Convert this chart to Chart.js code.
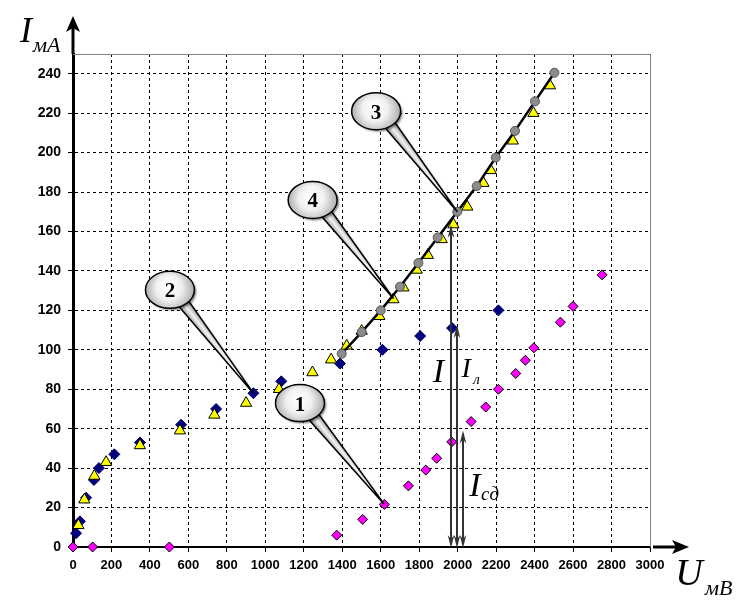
<!DOCTYPE html>
<html>
<head>
<meta charset="utf-8">
<script src="https://cdn.jsdelivr.net/npm/chart.js@4.4.0/dist/chart.umd.min.js"></script>
<style>
html,body{margin:0;padding:0;background:#ffffff;}
canvas{display:block;}
</style>
</head>
<body>
<canvas id="c" width="745" height="609"></canvas>
<script>
// ---- tick labels ----
const xTickValues = [0,200,400,600,800,1000,1200,1400,1600,1800,2000,2200,2400,2600,2800,3000];
const yTickValues = [0,20,40,60,80,100,120,140,160,180,200,220,240];

// ---- series 1 (magenta diamonds) ----
const s1U = [0,102,501,1371,1506,1619,1744,1834,1891,1969,2070,2146,2212,2302,2352,2396,2534,2600,2751];
const s1I = [0,0,0,6,14,21.6,31,39,45,53.3,63.6,71,80,88,94.7,101,114,122,138];

// ---- series 2 (navy diamonds) ----
const s2U = [16,36,68,109,135,215,348,562,744,938,1083,1388,1609,1805,1971,2212];
const s2I = [7,13,25,34,40,47,53,62,70,78,84,93,100,107,111,120];

// ---- series 3 (grey circles, joined by a line) ----
const s3U = [1397,1501,1600,1700,1796,1896,1998,2099,2198,2298,2402,2503];
const s3I = [98,109,120,132,144,157,170,183,197.5,211,226,240.5];

// ---- series 4 (yellow triangles) ----
const s4U = [28,59,111,172,348,556,735,900,1071,1245,1342,1423,1501,1593,1666,1718,1787,1845,1917,1978,2050,2134,2172,2287,2394,2480];
const s4I = [11,24,36,43,51.5,59,67,73,80,88.5,95,102,109.5,117,125.5,131.5,140.5,148,156,163.5,172.5,184.5,191,206,220,234];

// ---- callouts: label, bubble centre (data), target point (data) ----
const calloutLabels = ['1','2','3','4'];
const calloutCentre = [[1180,73],[504,130.4],[1576,221],[1246,176]];
const calloutTarget = [[1619,21.6],[938,78],[1998,170],[1666,126]];

// ---- vertical double arrows: U, top I ----
const arrowU = [1964,1999,2030];
const arrowTop = [163.4,112.6,59.1];

const toPts = (u, i) => u.map((v, k) => ({x: v, y: i[k]}));

const axisFont = {family: "'Liberation Sans', Arial, sans-serif", weight: 'bold'};

const overlay = {
  id: 'overlay',
  beforeDatasetsDraw(chart) {
    const {ctx, chartArea: a} = chart;
    ctx.save();
    ctx.strokeStyle = '#808080';
    ctx.lineWidth = 1;
    ctx.beginPath();
    ctx.moveTo(a.left, a.top + 0.5);
    ctx.lineTo(a.right + 0.5, a.top + 0.5);
    ctx.lineTo(a.right + 0.5, a.bottom);
    ctx.stroke();
    ctx.restore();
  },
  afterDraw(chart) {
    const {ctx, chartArea: a, scales: {x, y}} = chart;
    ctx.save();
    // axis arrows
    ctx.fillStyle = '#000';
    ctx.strokeStyle = '#000';
    ctx.lineWidth = 3;
    ctx.beginPath();
    ctx.moveTo(a.left, a.top);
    ctx.lineTo(a.left, 28);
    ctx.stroke();
    ctx.beginPath();
    ctx.moveTo(a.left, 16);
    ctx.lineTo(a.left - 7, 32);
    ctx.lineTo(a.left, 28);
    ctx.lineTo(a.left + 7, 32);
    ctx.closePath();
    ctx.fill();
    ctx.beginPath();
    ctx.moveTo(a.right + 3, a.bottom);
    ctx.lineTo(a.right + 28, a.bottom);
    ctx.stroke();
    ctx.beginPath();
    ctx.moveTo(a.right + 39, a.bottom);
    ctx.lineTo(a.right + 22, a.bottom - 7);
    ctx.lineTo(a.right + 26, a.bottom);
    ctx.lineTo(a.right + 22, a.bottom + 7);
    ctx.closePath();
    ctx.fill();

    // vertical double arrows
    ctx.strokeStyle = '#333';
    ctx.fillStyle = '#333';
    ctx.lineWidth = 2;
    const head = (px, py, dir) => {
      const L = 13, W = 3.3;
      ctx.beginPath();
      ctx.moveTo(px, py);
      ctx.lineTo(px - W, py - dir * L);
      ctx.lineTo(px, py - dir * (L - 4));
      ctx.lineTo(px + W, py - dir * L);
      ctx.closePath();
      ctx.fill();
    };
    arrowU.forEach((u, k) => {
      const px = Math.round(x.getPixelForValue(u));
      const yb = y.getPixelForValue(0) + 1;
      const yt = y.getPixelForValue(arrowTop[k]);
      ctx.beginPath();
      ctx.moveTo(px, yb - 4);
      ctx.lineTo(px, yt + 4);
      ctx.stroke();
      head(px, yt, -1);
      head(px, yb, 1);
    });

    // callouts
    calloutLabels.forEach((lab, k) => {
      const cx = x.getPixelForValue(calloutCentre[k][0]);
      const cy = y.getPixelForValue(calloutCentre[k][1]);
      const tx = x.getPixelForValue(calloutTarget[k][0]);
      const ty = y.getPixelForValue(calloutTarget[k][1]);
      const rx = 24.5, ry = 18.5;
      const bx = cx + 14, by = cy + 14;
      const dx = tx - bx, dy = ty - by, len = Math.hypot(dx, dy);
      const nx = -dy / len, ny = dx / len, hw = 5.5;
      ctx.save();
      ctx.shadowColor = 'rgba(0,0,0,0.45)';
      ctx.shadowOffsetX = 2; ctx.shadowOffsetY = 2; ctx.shadowBlur = 2;
      const wg = ctx.createLinearGradient(bx + nx * hw, by + ny * hw, bx - nx * hw, by - ny * hw);
      wg.addColorStop(0, '#9a9a9a'); wg.addColorStop(0.5, '#f2f2f2'); wg.addColorStop(1, '#9a9a9a');
      ctx.beginPath();
      ctx.moveTo(bx + nx * hw, by + ny * hw);
      ctx.lineTo(tx, ty);
      ctx.lineTo(bx - nx * hw, by - ny * hw);
      ctx.closePath();
      ctx.fillStyle = wg;
      ctx.fill();
      ctx.shadowColor = 'transparent';
      ctx.lineWidth = 1.5; ctx.strokeStyle = '#000';
      ctx.stroke();
      ctx.shadowColor = 'rgba(0,0,0,0.45)';
      const g = ctx.createRadialGradient(cx - 2, cy - 4, 2, cx, cy, rx * 1.05);
      g.addColorStop(0, '#ffffff'); g.addColorStop(0.45, '#f0f0f0'); g.addColorStop(1, '#a5a5a5');
      ctx.beginPath();
      ctx.ellipse(cx, cy, rx, ry, 0, 0, Math.PI * 2);
      ctx.fillStyle = g;
      ctx.fill();
      ctx.shadowColor = 'transparent';
      ctx.lineWidth = 1.5; ctx.strokeStyle = '#000';
      ctx.stroke();
      ctx.fillStyle = '#000';
      ctx.font = "bold 21px 'Liberation Serif', 'Times New Roman', serif";
      ctx.textAlign = 'center';
      ctx.textBaseline = 'alphabetic';
      ctx.fillText(lab, cx, cy + 7.5);
      ctx.restore();
    });

    // current labels
    const serif = "'Liberation Serif', 'Times New Roman', serif";
    const sub = (main, s, px, py, mainSize, subSize, sdx, sdy) => {
      ctx.fillStyle = '#000';
      ctx.textAlign = 'center';
      ctx.textBaseline = 'alphabetic';
      ctx.font = 'italic ' + mainSize + 'px ' + serif;
      ctx.fillText(main, px, py);
      if (s) {
        ctx.textAlign = 'left';
        ctx.font = 'italic ' + subSize + 'px ' + serif;
        ctx.fillText(s, px + sdx, py + sdy);
      }
    };
    sub('I', '', x.getPixelForValue(1900), y.getPixelForValue(83.9), 34, 0, 0, 0);
    sub('I', 'л', x.getPixelForValue(2044), y.getPixelForValue(86.4), 28, 15, 7, 7);
    sub('I', 'сд', x.getPixelForValue(2090), y.getPixelForValue(26), 34, 19, 6, 4);

    // axis titles
    sub('I', 'мА', 26, 42, 36, 22, 7, 9.5);
    sub('U', 'мВ', 689, 585, 38, 22, 16, 10);
    ctx.restore();
  }
};

new Chart(document.getElementById('c'), {
  type: 'scatter',
  data: {
    datasets: [
      {
        data: toPts(s3U, s3I), showLine: true, borderColor: '#000', borderWidth: 2.5,
        pointStyle: 'circle', pointRadius: 4.5, pointBackgroundColor: '#8c8c8c',
        pointBorderColor: '#555', pointBorderWidth: 1, clip: false
      },
      {
        data: toPts(s4U, s4I), pointStyle: 'triangle', pointRadius: 6.5,
        pointBackgroundColor: '#ffff00', pointBorderColor: '#000', pointBorderWidth: 1, clip: false
      },
      {
        data: toPts(s2U, s2I), pointStyle: 'rectRot', pointRadius: 5.5,
        pointBackgroundColor: '#000080', pointBorderColor: '#000066', pointBorderWidth: 1, clip: false
      },
      {
        data: toPts(s1U, s1I), pointStyle: 'rectRot', pointRadius: 5,
        pointBackgroundColor: '#ff00ff', pointBorderColor: '#000', pointBorderWidth: 1, clip: false
      }
    ]
  },
  options: {
    responsive: false,
    animation: false,
    devicePixelRatio: 1,
    layout: {padding: {left: 0, top: 54, right: 95, bottom: 0}},
    plugins: {legend: {display: false}, tooltip: {enabled: false}},
    scales: {
      x: {
        type: 'linear', min: 0, max: 3000,
        afterBuildTicks: s => { s.ticks = xTickValues.map(v => ({value: v})); },
        afterFit: s => { s.height = 62; },
        grid: {color: '#000', lineWidth: 1, tickLength: 5, tickColor: '#000', tickBorderDash: []},
        border: {display: true, color: '#000', width: 2, dash: [3, 3]},
        ticks: {
          autoSkip: false, maxRotation: 0, padding: 6, color: '#000',
          font: Object.assign({size: 13}, axisFont),
          callback: v => String(v)
        }
      },
      y: {
        type: 'linear', min: 0, max: 250,
        afterBuildTicks: s => { s.ticks = yTickValues.map(v => ({value: v})); },
        afterFit: s => { s.width = 73; },
        grid: {color: '#000', lineWidth: 1, tickLength: 5, tickColor: '#000', tickBorderDash: []},
        border: {display: true, color: '#000', width: 3, dash: [3, 3]},
        ticks: {
          autoSkip: false, padding: 7, color: '#000',
          font: Object.assign({size: 14}, axisFont),
          callback: v => String(v)
        }
      }
    }
  },
  plugins: [overlay]
});
</script>
</body>
</html>
